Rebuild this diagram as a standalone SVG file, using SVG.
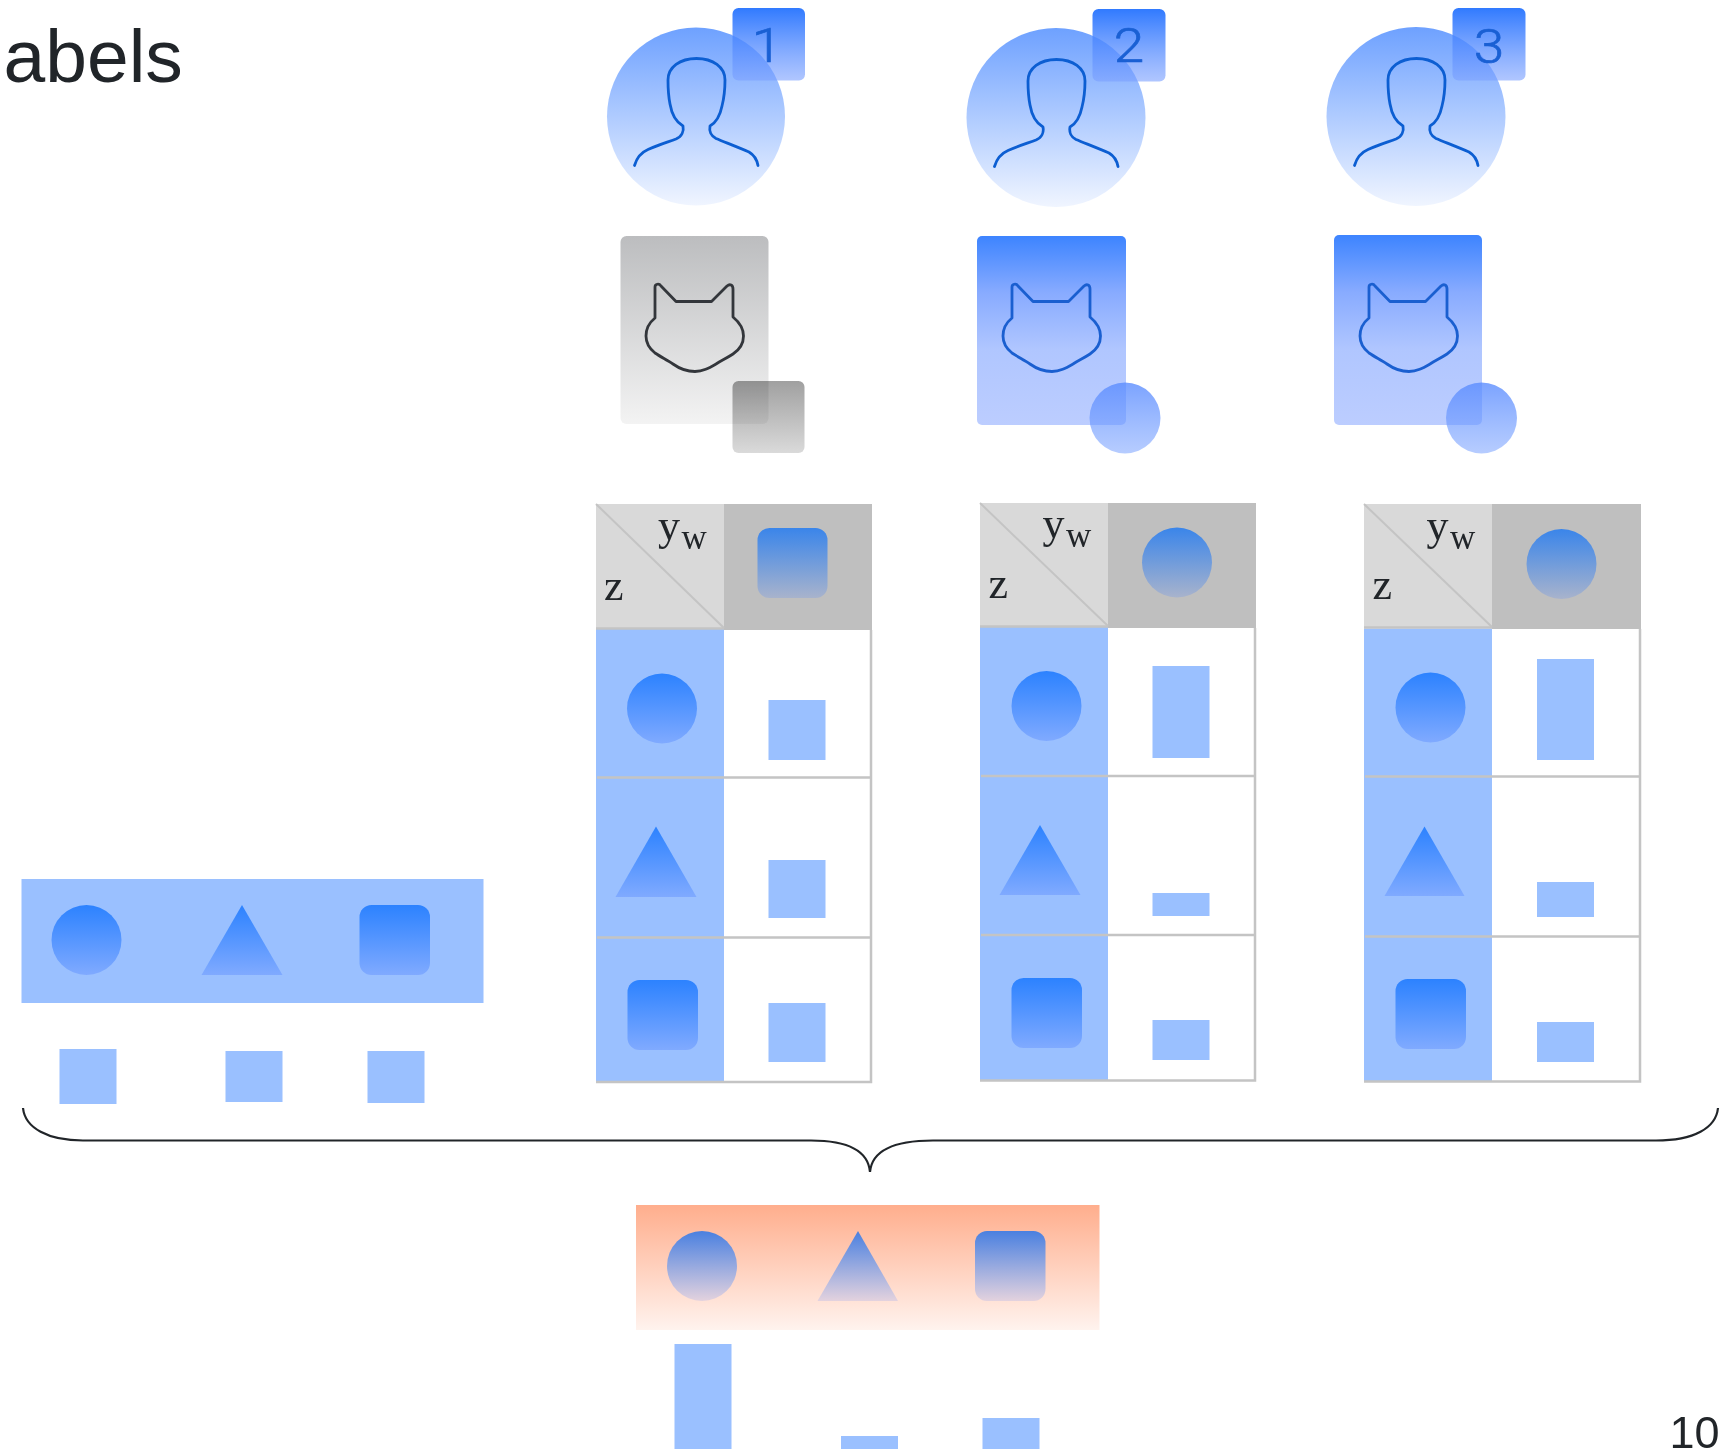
<svg xmlns="http://www.w3.org/2000/svg" xmlns:xlink="http://www.w3.org/1999/xlink" width="1731" height="1449" viewBox="0 0 1731 1449">
<style>
.b{fill:#9ac0ff}
.s{fill:url(#gs)}
.h{fill:url(#gh)}
.o{fill:url(#go)}
.line{stroke:#c4c4c4;stroke-width:2.5;fill:none}
.diag{stroke:#c4c4c4;stroke-width:2;fill:none}
.light{fill:#d9d9d9}
.dark{fill:#bfbfbf}
.m{font-family:"Liberation Serif",serif;fill:#212529}
.m1{font-size:44px}
.m2{font-size:35px}
.t{font-family:"Liberation Sans",Arial,sans-serif;fill:#212529}
.d{font-family:Roboto,"Liberation Sans",sans-serif;font-weight:300;font-size:49px;fill:#1a60d4;stroke:#1a60d4;stroke-width:.7;text-anchor:middle}
.ic{fill:none;stroke-width:2.8;stroke-linecap:round;stroke-linejoin:round}
.mul{mix-blend-mode:multiply}
</style>
<defs>
<linearGradient id="gs" x1="0" y1="0" x2="0" y2="1"><stop offset="0" stop-color="#2c82ff"/><stop offset="1" stop-color="#80aaff"/></linearGradient>
<linearGradient id="gh" x1="0" y1="0" x2="0" y2="1"><stop offset="0" stop-color="#3a85ea"/><stop offset="1" stop-color="#a8b3cc"/></linearGradient>
<linearGradient id="go" x1="0" y1="0" x2="0" y2="1"><stop offset="0" stop-color="#4a80e0"/><stop offset="1" stop-color="#e3d2de"/></linearGradient>
<linearGradient id="gor" x1="0" y1="0" x2="0" y2="1"><stop offset="0" stop-color="#ffae8d"/><stop offset="1" stop-color="#fff3ee"/></linearGradient>
<linearGradient id="gp" x1="0" y1="0" x2="0" y2="1"><stop offset="0" stop-color="#6ea1ff"/><stop offset="1" stop-color="#f0f5ff"/></linearGradient>
<linearGradient id="gb" x1="0" y1="0" x2="0" y2="1"><stop offset="0" stop-color="#2a76ff" stop-opacity=".97"/><stop offset="1" stop-color="#7ba0ff" stop-opacity=".6"/></linearGradient>
<linearGradient id="gc" x1="0" y1="0" x2="0" y2="1"><stop offset="0" stop-color="#3d84ff"/><stop offset=".3" stop-color="#88abff"/><stop offset=".6" stop-color="#b0c6ff"/><stop offset="1" stop-color="#bccdff"/></linearGradient>
<linearGradient id="gg" x1="0" y1="0" x2="0" y2="1"><stop offset="0" stop-color="#bcbdbf"/><stop offset="1" stop-color="#f3f3f3"/></linearGradient>
<linearGradient id="gq" x1="0" y1="0" x2="0" y2="1"><stop offset="0" stop-color="#a0a0a0"/><stop offset="1" stop-color="#dadada"/></linearGradient>
<linearGradient id="gd" x1="0" y1="0" x2="0" y2="1"><stop offset="0" stop-color="#5a8cff" stop-opacity=".8"/><stop offset="1" stop-color="#7ba3ff" stop-opacity=".55"/></linearGradient>
<path id="person" d="M634.500,165.500 C637,157 641,152.500 648,149.500 C658,145 668,142 676,139 C682,136.500 684,131 683,126 C676,122 672,116 670,104 C668,94 668,88 668,80 C668,67 680,58.500 696.500,58.500 C713,58.500 725,67 725,80 C725,90 724,98 722,106 C720,116 717,122 710,126 C709,131 711,136 716,138.500 C727,143 740,148 749,152 C754,155 757,160 758,165.500"/>
<path id="cat" d="M655,287 C655,284 659,283 661,286 L676,301.500 L711.500,301.500 L727,286 C730,283.500 733,285 733,289 L733,317 C739,322 743.500,328 743.500,336 C743.500,344 739,350 733,354 C727,358 722,360 716,364 C709,368 703,371.500 695,371.500 C687,371.500 680,369 673,364 C667,360 661,357 655,353 C650,349 646,343 646,336 C646,328 650,322 655,318 Z"/>
</defs>

<rect width="1731" height="1449" fill="#fff"/>
<text class="t" x="3.500" y="81.500" font-size="75">abels</text>
<text class="t" x="1719.500" y="1448" font-size="45" text-anchor="end">10</text>

<g id="user1">
<circle cx="696" cy="116.500" r="89" fill="url(#gp)"/>
<use xlink:href="#person" class="ic" stroke="#0c5ed2"/>
<rect x="732.500" y="8" width="72.500" height="72.500" rx="6" fill="url(#gb)"/>
<text class="d" transform="translate(767,62) scale(1.12,1)">1</text>
</g>
<g id="user2">
<circle cx="1056" cy="117.500" r="89.500" fill="url(#gp)"/>
<use xlink:href="#person" x="360" y="1" class="ic" stroke="#0c5ed2"/>
<rect x="1092.500" y="9" width="73" height="72.500" rx="6" fill="url(#gb)"/>
<text class="d" transform="translate(1129,62) scale(1.12,1)">2</text>
</g>
<g id="user3">
<circle cx="1416" cy="116.500" r="89.500" fill="url(#gp)"/>
<use xlink:href="#person" x="720" class="ic" stroke="#0c5ed2"/>
<rect x="1452.500" y="8" width="73" height="72.500" rx="6" fill="url(#gb)"/>
<text class="d" transform="translate(1489,62.500) scale(1.12,1)">3</text>
</g>

<g id="card1">
<rect x="620.500" y="236" width="148" height="188" rx="6" fill="url(#gg)"/>
<use xlink:href="#cat" class="ic" stroke="#33363b"/>
<rect class="mul" x="732.500" y="381" width="72" height="72" rx="6" fill="url(#gq)"/>
</g>
<g id="card2">
<rect x="977" y="236" width="149" height="189" rx="5" fill="url(#gc)"/>
<use xlink:href="#cat" x="357" class="ic" stroke="#1a5fd0"/>
<circle cx="1125" cy="418" r="35.500" fill="url(#gd)"/>
</g>
<g id="card3">
<rect x="1334" y="235" width="148" height="190" rx="5" fill="url(#gc)"/>
<use xlink:href="#cat" x="714" class="ic" stroke="#1a5fd0"/>
<circle cx="1481.500" cy="418" r="35.500" fill="url(#gd)"/>
</g>

<g id="table1">
<rect class="light" x="596" y="504" width="128" height="125"/>
<rect class="dark" x="724" y="504" width="148" height="126"/>
<rect class="b" x="596" y="629" width="128" height="453"/>
<path class="diag" d="M596,504 L724,628"/>
<path class="line" d="M596,628.500 H724 M871,630 V1082 H596 M597,777.500 H871 M597,937.500 H871"/>
<text class="m m1" x="658" y="540">y</text><text class="m m2" x="681.500" y="549">w</text><text class="m m1" x="604" y="600">z</text>
<rect class="h" x="757.500" y="528" width="70" height="70" rx="12"/>
<circle class="s" cx="662" cy="708.500" r="35"/>
<path class="s" d="M656,826.500 L696.500,897 H615.500 Z"/>
<rect class="s" x="627.500" y="980" width="70.500" height="70" rx="12"/>
<rect class="b" x="768.500" y="700" width="57" height="60"/>
<rect class="b" x="768.500" y="860" width="57" height="58"/>
<rect class="b" x="768.500" y="1003" width="57" height="59"/>
</g>

<g id="table2">
<rect class="light" x="980" y="503" width="128" height="124"/>
<rect class="dark" x="1108" y="503" width="148" height="125"/>
<rect class="b" x="980" y="627" width="128" height="453"/>
<path class="diag" d="M980,503 L1108,626"/>
<path class="line" d="M980,626.500 H1108 M1255,628 V1080.500 H980 M981,776 H1255 M981,935 H1255"/>
<text class="m m1" x="1042.500" y="538">y</text><text class="m m2" x="1066" y="547">w</text><text class="m m1" x="988.500" y="598">z</text>
<circle class="h" cx="1177" cy="562.500" r="35"/>
<circle class="s" cx="1046.500" cy="706" r="35"/>
<path class="s" d="M1040,825 L1080.500,895 H999.500 Z"/>
<rect class="s" x="1011.500" y="978" width="70.500" height="70" rx="12"/>
<rect class="b" x="1152.500" y="666" width="57" height="92"/>
<rect class="b" x="1152.500" y="893" width="57" height="23"/>
<rect class="b" x="1152.500" y="1020" width="57" height="40"/>
</g>

<g id="table3">
<rect class="light" x="1364" y="504" width="128" height="124"/>
<rect class="dark" x="1492" y="504" width="149" height="125"/>
<rect class="b" x="1364" y="628.500" width="128" height="453"/>
<path class="diag" d="M1364,504 L1492,627"/>
<path class="line" d="M1364,627.500 H1492 M1640,629 V1081.500 H1364 M1365,776.500 H1640 M1365,936.500 H1640"/>
<text class="m m1" x="1426.500" y="539.500">y</text><text class="m m2" x="1450" y="549">w</text><text class="m m1" x="1372.500" y="599">z</text>
<circle class="h" cx="1561.500" cy="564" r="35"/>
<circle class="s" cx="1430.500" cy="707.500" r="35"/>
<path class="s" d="M1424.500,826.500 L1464.500,896 H1384.500 Z"/>
<rect class="s" x="1395.500" y="979" width="70.500" height="70" rx="12"/>
<rect class="b" x="1537" y="659" width="57" height="101"/>
<rect class="b" x="1537" y="882" width="57" height="35"/>
<rect class="b" x="1537" y="1022" width="57" height="40"/>
</g>

<g id="input">
<rect class="b" x="21.500" y="879" width="462" height="124"/>
<circle class="s" cx="86.500" cy="940" r="35"/>
<path class="s" d="M242,905 L282.500,975 H201.500 Z"/>
<rect class="s" x="359.500" y="905" width="70.500" height="70" rx="12"/>
<rect class="b" x="59.500" y="1049" width="57" height="55"/>
<rect class="b" x="225.500" y="1051" width="57" height="51"/>
<rect class="b" x="367.500" y="1051" width="57" height="52"/>
</g>

<g id="connectors">
<path d="M23,1108 C25,1128 48,1140.500 83,1140.500 L811,1140.500 C846,1140.500 868,1150 870,1172 C872,1150 896,1140.500 933,1140.500 L1656,1140.500 C1694,1140.500 1716,1128 1718,1108" fill="none" stroke="#212529" stroke-width="2.200"/>
</g>

<g id="output">
<rect x="636" y="1205" width="463.500" height="125" fill="url(#gor)"/>
<circle class="o" cx="702" cy="1266" r="35"/>
<path class="o" d="M858,1231 L898,1301 H817.500 Z"/>
<rect class="o" x="975" y="1231" width="70.500" height="70" rx="12"/>
<rect class="b" x="674.500" y="1344" width="57" height="105"/>
<rect class="b" x="841" y="1436" width="57" height="13"/>
<rect class="b" x="982.500" y="1418" width="57" height="31"/>
</g>
</svg>
